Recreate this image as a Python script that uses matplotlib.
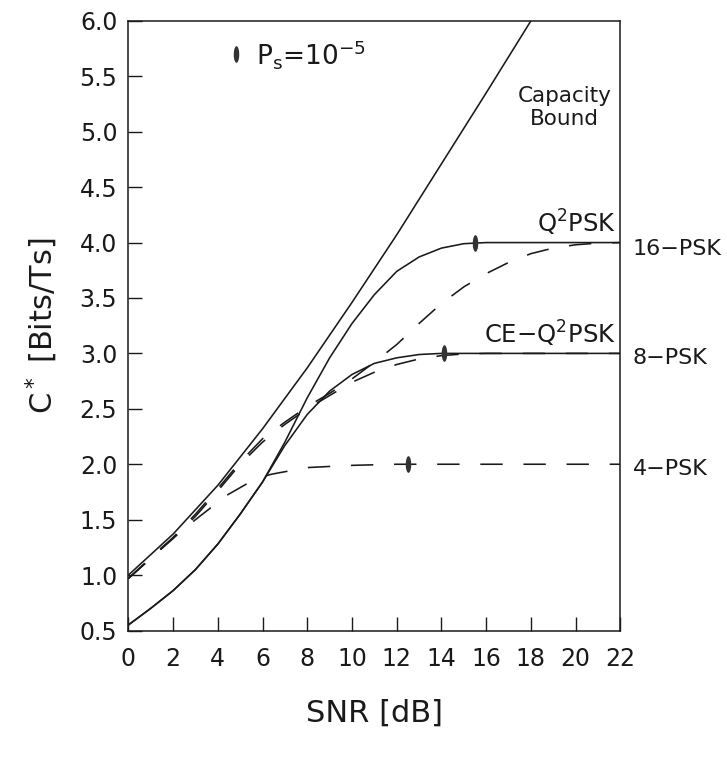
import numpy as np
import matplotlib
matplotlib.use("Agg")
import matplotlib.pyplot as plt

# ---------------- data ----------------
cap_x = [0, 2, 4, 6, 8, 10, 12, 14, 16, 18]
cap_y = [1.00, 1.37, 1.81, 2.32, 2.87, 3.46, 4.07, 4.71, 5.35, 6.00]

q2_x = [0, 1, 2, 3, 4, 5, 6, 7, 8, 9, 10, 11, 12, 13, 14, 15, 16, 22]
q2_y = [0.55, 0.70, 0.86, 1.05, 1.28, 1.55, 1.84, 2.20, 2.60, 2.96, 3.27, 3.53, 3.74, 3.87, 3.95, 3.99, 4.00, 4.00]

ce_x = [0, 1, 2, 3, 4, 5, 6, 7, 8, 9, 10, 11, 12, 13, 14, 22]
ce_y = [0.55, 0.70, 0.86, 1.05, 1.28, 1.55, 1.84, 2.17, 2.45, 2.66, 2.81, 2.91, 2.96, 2.99, 3.00, 3.00]

psk4_x = [0, 1.5, 3, 4.4, 5.7, 6.4, 8, 10, 12, 22]
psk4_y = [0.97, 1.25, 1.50, 1.72, 1.87, 1.91, 1.97, 1.99, 2.00, 2.00]

psk8_x = [0, 1, 2, 3, 4, 5, 6, 7, 8, 9, 10, 11, 12, 13, 14, 15, 16, 22]
psk8_y = [0.97, 1.15, 1.33, 1.53, 1.76, 2.00, 2.20, 2.36, 2.50, 2.62, 2.74, 2.83, 2.90, 2.95, 2.98, 2.995, 3.00, 3.00]

psk16_x = [0, 1, 2, 3, 4, 5, 6, 7, 8, 9, 10, 11, 12, 13, 14, 15, 16, 17, 18, 19, 20, 21, 22]
psk16_y = [0.97, 1.15, 1.34, 1.55, 1.78, 2.02, 2.23, 2.38, 2.52, 2.64, 2.77, 2.92, 3.08, 3.27, 3.45, 3.60, 3.72, 3.82, 3.90, 3.95, 3.98, 3.995, 4.00]

mark_x = [15.5, 14.1, 12.5]
mark_y = [4.0, 3.0, 2.0]
legend_mark = (4.8, 5.7)

x_ticks = list(range(0, 23, 2))
y_ticks = [0.5, 1.0, 1.5, 2.0, 2.5, 3.0, 3.5, 4.0, 4.5, 5.0, 5.5, 6.0]

# ---------------- figure ----------------
plt.rcParams['font.family'] = ['DejaVu Sans']
plt.rcParams['mathtext.fontset'] = 'dejavusans'

W, H = 727, 770
fig = plt.figure(figsize=(W / 100, H / 100), dpi=100)
left, right, top, bottom = 128.4, 620.3, 20.9, 630.5
ax = fig.add_axes([left / W, 1 - bottom / H, (right - left) / W, (bottom - top) / H])

ink = '#1a1a1a'
lw = 1.15

ax.plot(cap_x, cap_y, color=ink, lw=lw)
ax.plot(q2_x, q2_y, color=ink, lw=lw)
ax.plot(ce_x, ce_y, color=ink, lw=lw)
dash = (14, 13)
for xs, ys in [(psk4_x, psk4_y), (psk8_x, psk8_y), (psk16_x, psk16_y)]:
    ax.plot(xs, ys, color=ink, lw=lw, dashes=dash)

t = np.linspace(0, 2 * np.pi, 40)
ell = list(zip(0.33 * np.cos(t), np.sin(t)))
ax.plot(mark_x, mark_y, linestyle='none', marker=ell, markersize=12,
        color='#333333', markeredgewidth=0)
ax.plot([legend_mark[0]], [legend_mark[1]], linestyle='none', marker=ell,
        markersize=12, color='#333333', markeredgewidth=0)

ax.text(5.7, 5.7, r'P$_\mathregular{s}$=10$^{\mathregular{-5}}$', fontsize=19,
        va='center', ha='left', color=ink)

ax.text(19.5, 5.22, 'Capacity\nBound', fontsize=15.5, ha='center', va='center',
        color=ink, linespacing=1.2)
ax.text(21.8, 4.04, r'Q$^\mathregular{2}$PSK', fontsize=17.5, ha='right', va='bottom', color=ink)
ax.text(21.8, 3.04, r'CE$-$Q$^\mathregular{2}$PSK', fontsize=17.5, ha='right', va='bottom', color=ink)

for lab, yv in [('16\u2212PSK', 3.94), ('8\u2212PSK', 2.96), ('4\u2212PSK', 1.96)]:
    ax.text(22.55, yv, lab, fontsize=16, ha='left', va='center', color=ink, clip_on=False)

ax.set_xlim(0, 22)
ax.set_ylim(0.5, 6.0)
ax.set_xticks(x_ticks)
ax.set_yticks(y_ticks)
ax.set_yticklabels([f'{v:.1f}' for v in y_ticks])
ax.tick_params(axis='both', direction='in', length=10, width=1.0, color=ink,
               labelsize=17, labelcolor=ink)
ax.tick_params(axis='x', pad=12)
ax.tick_params(axis='y', pad=8)
for s in ax.spines.values():
    s.set_linewidth(1.1)
    s.set_color(ink)

ax.set_xlabel('SNR [dB]', fontsize=22, labelpad=20, color=ink)
ax.set_ylabel(r'C$^*$ [Bits/Ts]', fontsize=22, labelpad=14, color=ink)

fig.savefig('out.png', dpi=100, facecolor='white')
